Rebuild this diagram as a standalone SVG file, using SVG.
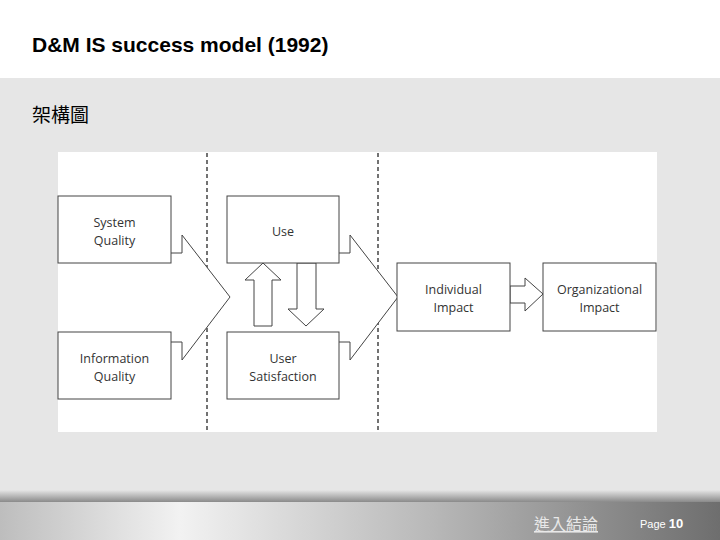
<svg xmlns="http://www.w3.org/2000/svg" width="720" height="540" viewBox="0 0 720 540">
<defs>
<linearGradient id="foot" x1="0" y1="0" x2="1" y2="0">
<stop offset="0" stop-color="#bdbdbd"/><stop offset="0.25" stop-color="#f2f2f2"/><stop offset="0.6" stop-color="#b8b8b8"/><stop offset="1" stop-color="#6e6e6e"/>
</linearGradient>
<linearGradient id="band" x1="0" y1="0" x2="0" y2="1">
<stop offset="0" stop-color="#e6e6e6"/><stop offset="1" stop-color="#8a8a8a"/>
</linearGradient>
</defs>
<style>
.box{fill:#fff;stroke:#444;stroke-width:1}
.arr{fill:#fff;stroke:#444;stroke-width:1;stroke-linejoin:miter}
.t{font-family:"Open Sans","Liberation Sans",sans-serif;font-size:12.5px;fill:#333;text-anchor:middle}
.dash{stroke:#444;stroke-width:1.5;stroke-dasharray:4,3}
</style>
<rect width="720" height="540" fill="#e6e6e6"/>
<rect width="720" height="78" fill="#fff"/>
<text x="32" y="52" font-family="Liberation Sans,Arial,sans-serif" font-size="21" font-weight="bold" fill="#000">D&amp;M IS success model (1992)</text>
<text x="32" y="122" font-family="Liberation Sans,Noto Sans CJK TC,sans-serif" font-size="19" fill="#000">架構圖</text>
<rect x="58" y="152" width="599" height="280" fill="#fff"/>
<g id="connectors">
<line class="dash" x1="207" y1="153" x2="207" y2="432"/>
<line class="dash" x1="378" y1="153" x2="378" y2="432"/>
<polyline class="arr" fill="none" points="171,253 182,253 182,235 230,297 182,360 182,342 171,342"/>
<polyline class="arr" fill="none" points="339,253 350,253 350,235 398,297 350,360 350,342 339,342"/>
<polygon class="arr" points="254,326 254,280 245,280 263,263 281,280 272,280 272,326"/>
<polygon class="arr" points="297,263 316,263 316,309 324,309 306,326 288,309 297,309"/>
<polygon class="arr" points="510,286 525,286 525,278 543,294 525,311 525,303 510,303"/>
</g>
<g id="system-quality"><rect class="box" x="58" y="196" width="113" height="67"/><text class="t" x="114.5" y="227">System</text><text class="t" x="114.5" y="245">Quality</text></g>
<g id="information-quality"><rect class="box" x="58" y="332" width="113" height="67"/><text class="t" x="114.5" y="363">Information</text><text class="t" x="114.5" y="381">Quality</text></g>
<g id="use"><rect class="box" x="227" y="196" width="112" height="67"/><text class="t" x="283" y="236">Use</text></g>
<g id="user-satisfaction"><rect class="box" x="227" y="332" width="112" height="67"/><text class="t" x="283" y="363">User</text><text class="t" x="283" y="381">Satisfaction</text></g>
<g id="individual-impact"><rect class="box" x="397" y="263" width="113" height="68"/><text class="t" x="453.5" y="294">Individual</text><text class="t" x="453.5" y="312">Impact</text></g>
<g id="organizational-impact"><rect class="box" x="543" y="263" width="113" height="68"/><text class="t" x="599.5" y="294">Organizational</text><text class="t" x="599.5" y="312">Impact</text></g>
<rect x="0" y="490" width="720" height="12" fill="url(#band)"/>
<rect x="0" y="502" width="720" height="38" fill="url(#foot)"/>
<text x="566" y="530" font-family="Liberation Serif,Noto Sans CJK TC,serif" font-size="16" fill="#e8e8e8" text-anchor="middle" text-decoration="underline">進入結論</text>
<text x="640" y="528" font-family="Liberation Sans,Arial,sans-serif" font-size="11" fill="#fff">Page <tspan font-size="13" font-weight="bold">10</tspan></text>
</svg>
